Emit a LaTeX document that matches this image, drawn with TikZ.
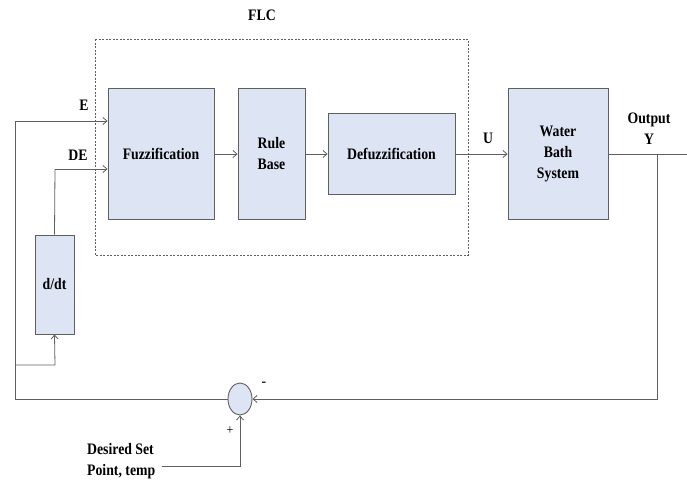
\documentclass[tikz,border=0pt]{standalone}
\usepackage{fontspec}
\setmainfont{Liberation Serif}[FakeStretch=0.86]
\usetikzlibrary{arrows.meta,shapes.geometric}
\definecolor{boxfill}{RGB}{221,228,243}
\definecolor{linegrey}{RGB}{95,95,95}
\begin{document}
\begin{tikzpicture}[x=1pt,y=-1pt,
  blk/.style={draw=linegrey,line width=0.9pt,fill=boxfill,minimum width=#1,inner sep=0pt,align=center,font=\fontsize{16}{21}\selectfont\bfseries},
  lbl/.style={font=\fontsize{16}{21}\selectfont\bfseries,inner sep=0pt,align=center},
  wire/.style={draw=linegrey,line width=0.8pt},
  arr/.style={wire,-{Straight Barb[length=4pt,width=7pt]}}]
\useasboundingbox (0,0) rectangle (687,482);
% FLC dashed box
\draw[linegrey,line width=0.7pt,dash pattern=on 2pt off 1.5pt] (95,39) rectangle (468,255);
\node[lbl] (flc) at (262,15) {FLC};
% blocks
\node[blk=106pt,minimum height=131pt] (fuzz) at (161,153.5) {Fuzzification};
\node[blk=67pt,minimum height=131pt] (rule) at (271.5,153.5) {Rule\\Base};
\node[blk=127pt,minimum height=81pt] (defuzz) at (391.5,153.5) {Defuzzification};
\node[blk=100pt,minimum height=131pt] (water) at (558,153.5) {Water\\Bath\\System};
\node[blk=39pt,minimum height=99pt] (ddt) at (54.5,284.5) {d/dt};
\node[draw=linegrey,line width=0.9pt,fill=boxfill,ellipse,minimum width=24pt,minimum height=32pt,inner sep=0pt] (sum) at (240,399) {};
% coordinates
\coordinate (le) at (15,121);
\coordinate (lb) at (15,399);
\coordinate (lbr) at (15,365);
\coordinate (dd) at (55,365);
\coordinate (de) at (55,169);
\coordinate (tap) at (657,154);
\coordinate (tapb) at (657,399);
\coordinate (outend) at (687,154);
\coordinate (sp) at (162,466);
\coordinate (spc) at (240,466);
% connectors
\draw[arr] (fuzz.east |- 0,154) -- (rule.west |- 0,154);
\draw[arr] (rule.east |- 0,154) -- (defuzz.west |- 0,154);
\draw[arr] (defuzz.east |- 0,154) -- (water.west |- 0,154);
\draw[wire] (water.east |- 0,154) -- (outend);
\draw[arr] (tap) -- (tapb) -- (sum.east);
\draw[wire] (sum.west) -- (lb) -- (le);
\draw[arr] (le) -- (fuzz.west |- le);
\draw[arr] (lbr) -- (dd) -- (ddt.south);
\draw[wire] (ddt.north) -- (de);
\draw[arr] (de) -- (fuzz.west |- de);
\draw[arr] (sp) -- (spc) -- (sum.south);
% labels
\node[lbl] (le1) at (84,105) {E};
\node[lbl] (lde) at (78,155) {DE};
\node[lbl] (lu) at (488,138) {U};
\node[lbl] (lout) at (649,129) {Output\\Y};
\node[lbl,font=\fontsize{16}{21}\selectfont] (lminus) at (264,384) {-};
\node[lbl,font=\fontsize{14}{16}\selectfont] (lplus) at (230,431) {+};
\node[lbl,align=left,anchor=west] (lsp) at (87,461) {Desired Set\\Point, temp};
\end{tikzpicture}
\end{document}
